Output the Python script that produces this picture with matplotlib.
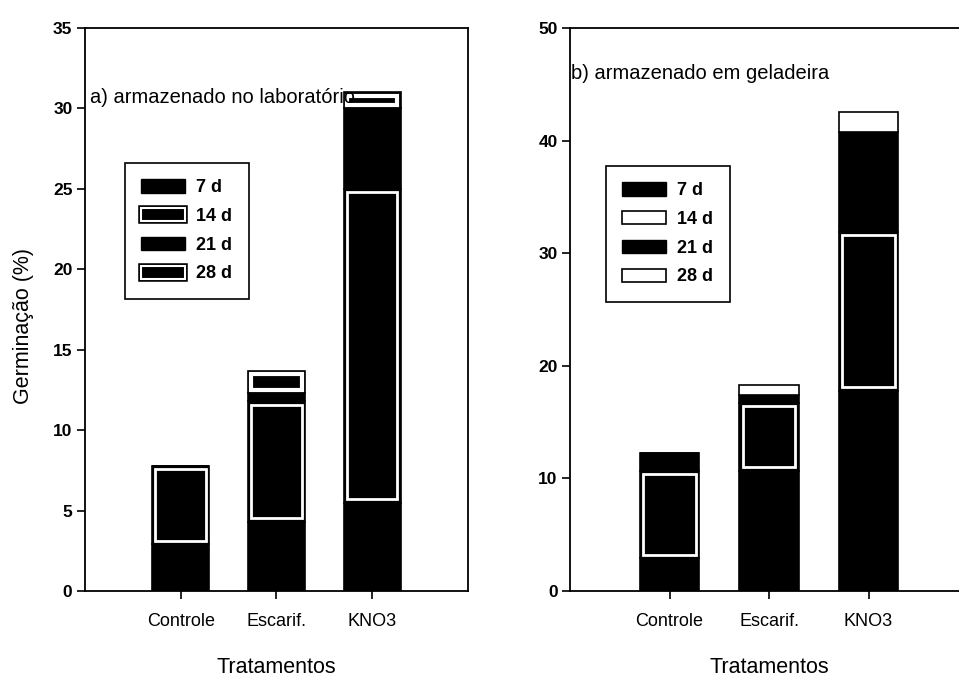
import numpy as np
import matplotlib
matplotlib.use('Agg')
import matplotlib.pyplot as plt
from matplotlib.patches import Patch
from matplotlib.legend_handler import HandlerTuple

plt.rcParams['font.family'] = ['Liberation Sans', 'DejaVu Sans']

tratamentos = ['Controle', 'Escarif.', 'KNO3']
dias = ['7 d', '14 d', '21 d', '28 d']

# a) armazenado no laboratorio
lab_7 = [2.9, 4.3, 5.5]
lab_14 = [4.9, 7.5, 19.5]
lab_21 = [0.0, 0.5, 5.0]
lab_28 = [0.0, 1.4, 1.0]

# b) armazenado em geladeira
gel_7 = [2.9, 10.7, 17.8]
gel_14 = [7.8, 6.0, 14.1]
gel_21 = [1.6, 0.7, 8.9]
gel_28 = [0.0, 0.9, 1.7]

fig = plt.figure(figsize=(9.59, 6.78), dpi=100)
ax1 = fig.add_axes([0.0886, 0.1283, 0.3994, 0.8304])
ax2 = fig.add_axes([0.5944, 0.1283, 0.4150, 0.8304])


def painel(ax, series, ymax, ystep, titulo, tpos, branco28, leg_anchor):
    ax.set_xlim(0, 4)
    ax.set_ylim(0, ymax)
    x = np.arange(1, 4)
    w = 0.6
    bb = ax.get_window_extent()
    # inset of the white frame, 3.5 px converted to data units
    dx = 3.5 * 4 / bb.width
    dy = 3.5 * ymax / bb.height
    base = np.zeros(3)
    for i, vals in enumerate(series):
        vals = np.array(vals)
        if i == 3 and branco28:
            ax.bar(x, vals, w, bottom=base, color='white', edgecolor='black', linewidth=1.2)
        else:
            ax.bar(x, vals, w, bottom=base, color='black', edgecolor='black', linewidth=1.2)
            if i in (1, 3):
                ok = vals > 2 * dy
                ax.bar(x[ok], vals[ok] - 2 * dy, w - 2 * dx, bottom=base[ok] + dy,
                       fill=False, edgecolor='white', linewidth=2.0 if i == 1 else 3)
        base = base + vals

    ax.set_yticks(np.arange(0, ymax + 1, ystep))
    ax.set_xticks(x)
    ax.set_xticklabels(tratamentos, fontsize=13)
    for lab in ax.get_yticklabels():
        lab.set_fontsize(12.5)
        lab.set_fontweight('bold')
    ax.tick_params(axis='x', length=6, width=1.2, pad=10)
    ax.tick_params(axis='y', length=6, width=1.2, pad=3)
    for s in ax.spines.values():
        s.set_linewidth(1.3)
    ax.set_xlabel('Tratamentos', fontsize=15.5, labelpad=19)
    ax.text(tpos[0], tpos[1], titulo, transform=ax.transAxes, fontsize=14.5,
            va='center', ha='left')

    preto = Patch(facecolor='black', edgecolor='black')
    moldura = (Patch(facecolor='black', edgecolor='black', linewidth=4),
               Patch(fill=False, edgecolor='white', linewidth=1.5))
    vazio = Patch(facecolor='white', edgecolor='black', linewidth=1.2)
    if branco28:
        handles = [preto, vazio, preto, vazio]
    else:
        handles = [preto, moldura, preto, moldura]
    leg = ax.legend(handles, dias, loc='upper left', bbox_to_anchor=leg_anchor,
                    bbox_transform=fig.transFigure, frameon=True, fancybox=False,
                    framealpha=1, edgecolor='black', borderpad=0.9, borderaxespad=0,
                    labelspacing=0.65, handlelength=2.4, handleheight=0.75,
                    handletextpad=0.65, prop={'size': 13, 'weight': 'bold'},
                    handler_map={tuple: HandlerTuple(ndivide=1, pad=0)})
    leg.get_frame().set_linewidth(1.2)


painel(ax1, [lab_7, lab_14, lab_21, lab_28], 35, 5,
       'a) armazenado no laboratório', (0.013, 0.877), False,
       (125 / 959, 1 - 163 / 678))
painel(ax2, [gel_7, gel_14, gel_21, gel_28], 50, 10,
       'b) armazenado em geladeira', (0.003, 0.92), True,
       (606 / 959, 1 - 166 / 678))

ax1.set_ylabel('Germinação (%)', fontsize=15.5, labelpad=14)
ax1.yaxis.label.set_y(0.47)

fig.savefig('out.png', dpi=100)
